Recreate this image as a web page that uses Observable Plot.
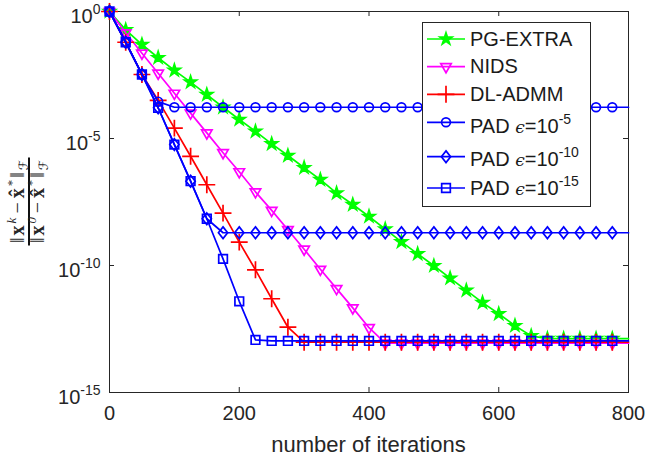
<!DOCTYPE html>
<html><head><meta charset="utf-8">
<script src="https://cdn.jsdelivr.net/npm/d3@7"></script>
<script src="https://cdn.jsdelivr.net/npm/@observablehq/plot@0.6"></script>
<style>html,body{margin:0;padding:0;background:#fff}svg{display:block}</style>
</head><body><div id="chart"></div>
<script>
// ---------- data ----------
const iterations = [0,25,50,75,100,125,150,175,200,225,250,275,300,325,350,375,400,425,450,475,500,525,550,575,600,625,650,675,700,725,750,775,800];
// log10 of relative error
const pgExtraLog = [0,-0.72,-1.30,-1.82,-2.32,-2.78,-3.27,-3.77,-4.25,-4.72,-5.21,-5.67,-6.15,-6.62,-7.15,-7.60,-8.07,-8.57,-9.07,-9.54,-10.01,-10.50,-10.98,-11.46,-11.90,-12.37,-12.77,-12.88,-12.88,-12.88,-12.88,-12.88,-12.88];
const nidsLog = [0,-0.84,-1.64,-2.43,-3.22,-4.00,-4.78,-5.56,-6.31,-7.10,-7.83,-8.59,-9.36,-10.15,-10.91,-11.67,-12.45,-13.06,-13.06,-13.06,-13.06,-13.06,-13.06,-13.06,-13.06,-13.06,-13.06,-13.06,-13.06,-13.06,-13.06,-13.06,-13.06];
const dlAdmmLog = [0,-1.21,-2.48,-3.50,-4.59,-5.70,-6.82,-7.94,-9.08,-10.17,-11.31,-12.43,-13.02,-13.02,-13.02,-13.02,-13.02,-13.02,-13.02,-13.02,-13.02,-13.02,-13.02,-13.02,-13.02,-13.02,-13.02,-13.02,-13.02,-13.02,-13.02,-13.02,-13.02];
const pad5Log = [0,-1.21,-2.48,-3.55,-3.77,-3.77,-3.77,-3.77,-3.77,-3.77,-3.77,-3.77,-3.77,-3.77,-3.77,-3.77,-3.77,-3.77,-3.77,-3.77,-3.77,-3.77,-3.77,-3.77,-3.77,-3.77,-3.77,-3.77,-3.77,-3.77,-3.77,-3.77,-3.77];
const pad10Log = [0,-1.21,-2.48,-3.79,-5.24,-6.68,-8.16,-8.71,-8.71,-8.71,-8.71,-8.71,-8.71,-8.71,-8.71,-8.71,-8.71,-8.71,-8.71,-8.71,-8.71,-8.71,-8.71,-8.71,-8.71,-8.71,-8.71,-8.71,-8.71,-8.71,-8.71,-8.71,-8.71];
const pad15Log = [0,-1.21,-2.48,-3.79,-5.24,-6.68,-8.16,-9.74,-11.41,-12.93,-12.97,-12.97,-12.97,-12.97,-12.97,-12.97,-12.97,-12.97,-12.97,-12.97,-12.97,-12.97,-12.97,-12.97,-12.97,-12.97,-12.97,-12.97,-12.97,-12.97,-12.97,-12.97,-12.97];
const seriesNames = ["PG-EXTRA","NIDS","DL-ADMM","PAD ϵ=10^-5","PAD ϵ=10^-10","PAD ϵ=10^-15"];
const xTickValues = [0,200,400,600,800];
const yTickValues = [1,1e-5,1e-10,1e-15];
const xLabel = "number of iterations";

// ---------- styles ----------
const triangleDown = {draw(ctx, size){const s=Math.sqrt(size)*0.6824,t=s/2,u=s*Math.sqrt(3)/2;ctx.moveTo(0,s);ctx.lineTo(u,-t);ctx.lineTo(-u,-t);ctx.closePath();}};
const diamondTall = {draw(ctx, size){const r=Math.sqrt(size);const w=r*0.52,h=r*0.66;ctx.moveTo(0,-h);ctx.lineTo(w,0);ctx.lineTo(0,h);ctx.lineTo(-w,0);ctx.closePath();}};
const styles = [
  {color:"#00ff00", symbol:d3.symbolStar, r:3.8, fill:"#00ff00"},
  {color:"#ff00ff", symbol:triangleDown, r:5, fill:"none"},
  {color:"#ff0000", symbol:d3.symbolPlus, r:5.5, fill:"none"},
  {color:"#0000ff", symbol:d3.symbolCircle, r:4.4, fill:"none"},
  {color:"#0000ff", symbol:diamondTall, r:5, fill:"none"},
  {color:"#0000ff", symbol:d3.symbolSquare2, r:5.5, fill:"none"}
];
const logs = [pgExtraLog, nidsLog, dlAdmmLog, pad5Log, pad10Log, pad15Log];
const series = logs.map((arr, i) => iterations.map((it, j) => ({iter: it, value: Math.pow(10, arr[j]), s: seriesNames[i]})));

const W = 645, H = 462, mL = 109, mR = 17, mT = 11, mB = 70;
const innerW = W - mL - mR, innerH = H - mT - mB;
const ink = "#262626";
const LW = 1.7;

const marks = [
  Plot.frame({stroke: ink}),
  Plot.ruleX(xTickValues, {x: d => d, insetTop: innerH - 5, stroke: ink}),
  Plot.ruleX(xTickValues, {x: d => d, insetBottom: innerH - 5, stroke: ink}),
  Plot.ruleY(yTickValues, {y: d => d, insetRight: innerW - 5, stroke: ink}),
  Plot.ruleY(yTickValues, {y: d => d, insetLeft: innerW - 5, stroke: ink}),
  Plot.axisX({ticks: xTickValues, tickSize: 0, tickPadding: 13, fontSize: 20, label: null, tickFormat: d => String(d)}),
  Plot.axisY({ticks: yTickValues, tickSize: 0, tickPadding: 9, fontSize: 20, label: null, dy: 5, tickFormat: d => "10^" + Math.round(Math.log10(d))})
];
series.forEach((data, i) => {
  const st = styles[i];
  marks.push(Plot.line(data, {x: "iter", y: "value", stroke: st.color, strokeWidth: LW}));
  marks.push(Plot.dot(data.filter(d => d.iter < 800), {x: "iter", y: "value", symbol: st.symbol, r: st.r, stroke: st.color, fill: st.fill, strokeWidth: LW}));
});

const chart = Plot.plot({
  width: W, height: H,
  marginLeft: mL, marginRight: mR, marginTop: mT, marginBottom: mB,
  style: {fontFamily: "'Liberation Sans', Arial, Helvetica, sans-serif", fontSize: "20px", color: ink, background: "#fff", overflow: "visible"},
  x: {domain: [0, 800]},
  y: {type: "log", domain: [1e-15, 1]},
  marks
});
document.getElementById("chart").appendChild(chart);

const svg = d3.select(chart);
// superscript exponents on y tick labels
svg.selectAll('g[aria-label="y-axis tick label"] text').each(function() {
  const t = d3.select(this);
  const [base, exp] = t.text().split("^");
  t.text(null);
  t.append("tspan").text(base);
  t.append("tspan").attr("dy", -9).attr("font-size", 14).text(exp);
});

// x axis label
svg.append("text").attr("x", mL + innerW / 2).attr("y", 452).attr("text-anchor", "middle")
  .attr("font-size", 22).attr("fill", ink).text(xLabel);

// y axis label (fraction)
const yl = svg.append("g").attr("transform", `translate(29,${mT + innerH / 2}) rotate(-90)`)
  .attr("font-family", "'Liberation Serif','DejaVu Serif',serif").attr("fill", ink);
yl.append("line").attr("x1", -44).attr("x2", 44).attr("y1", 0).attr("y2", 0).attr("stroke", "#111").attr("stroke-width", 2);
function normText(y, sup) {
  const t = yl.append("text").attr("x", 0).attr("y", y).attr("text-anchor", "middle").attr("font-size", 20)
    .attr("textLength", 83).attr("lengthAdjust", "spacing");
  t.append("tspan").text("‖");
  t.append("tspan").attr("font-weight", "bold").text("x");
  t.append("tspan").attr("font-style", "italic").attr("font-size", 13).attr("dy", -8).text(sup);
  t.append("tspan").attr("dy", 8).attr("dx", 2).text("−");
  t.append("tspan").attr("dx", 2).attr("font-weight", "bold").text("x\u0302");
  t.append("tspan").attr("font-size", 13).attr("dy", -8).text("*");
  t.append("tspan").attr("dy", 8).text("‖");
  t.append("tspan").attr("font-size", 13).attr("dy", 4).attr("font-family", "'DejaVu Sans',serif").text("ℱ");
}
normText(-5.5, "k");
normText(15, "0");

// legend
const lg = svg.append("g").attr("font-family", "'Liberation Sans', Arial, sans-serif").attr("font-size", 20)
  .attr("text-anchor", "start").attr("fill", "#1a1a1a");
lg.append("rect").attr("x", 422.5).attr("y", 22.5).attr("width", 168).attr("height", 184)
  .style("fill", "#ffffff").attr("stroke", ink);
const lineYs = [39, 66.7, 94.3, 122.3, 156.7, 188];
const baseYs = [46, 73.3, 101, 133.3, 165.7, 195];
seriesNames.forEach((name, i) => {
  const st = styles[i];
  lg.append("line").attr("x1", 427).attr("x2", 465).attr("y1", lineYs[i]).attr("y2", lineYs[i]).attr("stroke", st.color).attr("stroke-width", LW);
  lg.append("path").attr("transform", `translate(446,${lineYs[i]})`)
    .attr("d", d3.symbol(st.symbol, Math.PI * st.r * st.r)()).attr("stroke", st.color).style("fill", st.fill).attr("stroke-width", LW);
  const t = lg.append("text").attr("x", 470).attr("y", baseYs[i]).attr("text-anchor", "start");
  if (name.includes("^")) {
    const [pre, exp] = name.split("^");
    const [pad, rest] = pre.split("ϵ");
    t.append("tspan").text(pad);
    t.append("tspan").attr("font-family", "'DejaVu Serif',serif").attr("font-style", "italic").attr("font-size", 17).text("ϵ");
    t.append("tspan").text(rest);
    t.append("tspan").attr("dy", -9).attr("font-size", 14).text(exp);
  } else {
    t.text(name);
  }
});
</script>
</body></html>
